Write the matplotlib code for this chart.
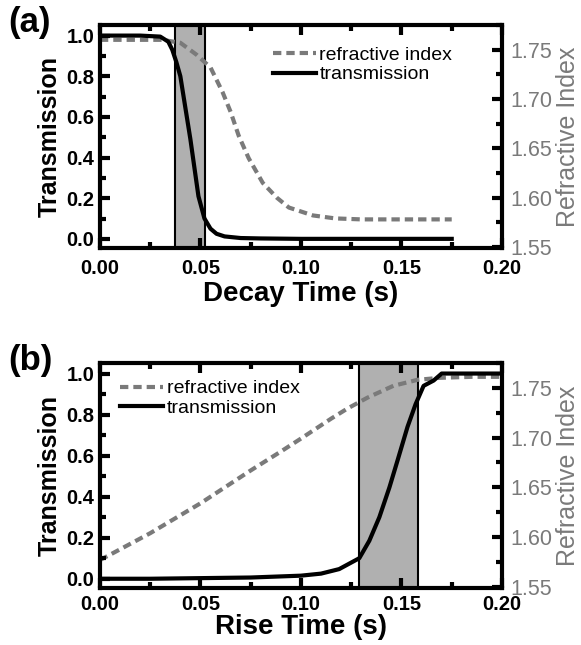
import numpy as np
import matplotlib
matplotlib.use('Agg')
import matplotlib.pyplot as plt
from matplotlib.ticker import MultipleLocator, FormatStrFormatter
from matplotlib.lines import Line2D

plt.rcParams['font.family'] = ['Liberation Sans', 'DejaVu Sans']

# ---- data ----
# (a) decay
decay_t = [0, 0.01, 0.02, 0.03, 0.034, 0.036, 0.038, 0.040, 0.045, 0.049, 0.052,
           0.055, 0.058, 0.062, 0.07, 0.08, 0.1, 0.125, 0.15, 0.175]
decay_trans = [1.0, 1.0, 1.0, 0.995, 0.97, 0.93, 0.87, 0.80, 0.49, 0.21, 0.10,
               0.05, 0.025, 0.012, 0.004, 0.002, 0.0, 0.0, 0.0, 0.0]
decay_n_t = [0, 0.02, 0.031, 0.04, 0.048, 0.055, 0.061, 0.065, 0.069, 0.074,
             0.081, 0.088, 0.094, 0.106, 0.117, 0.13, 0.15, 0.175]
decay_n = [1.76, 1.76, 1.76, 1.757, 1.745, 1.732, 1.707, 1.687, 1.663, 1.64,
           1.615, 1.60, 1.59, 1.582, 1.579, 1.578, 1.578, 1.578]
decay_band = (0.0373, 0.0522)

# (b) rise
rise_t = [0, 0.025, 0.05, 0.075, 0.1, 0.11, 0.119, 0.129, 0.134, 0.139, 0.144,
          0.148, 0.153, 0.157, 0.161, 0.166, 0.170, 0.18, 0.19, 0.2]
rise_trans = [0.0, 0.0, 0.003, 0.006, 0.015, 0.025, 0.047, 0.10, 0.185, 0.30,
              0.445, 0.575, 0.74, 0.85, 0.94, 0.966, 1.0, 1.0, 1.0, 1.0]
rise_n_t = [0, 0.025, 0.05, 0.075, 0.09, 0.1, 0.106, 0.115, 0.123, 0.133,
            0.146, 0.158, 0.169, 0.185, 0.2]
rise_n = [1.577, 1.604, 1.634, 1.667, 1.686, 1.699, 1.707, 1.719, 1.729, 1.74,
          1.752, 1.758, 1.76, 1.761, 1.761]
rise_band = (0.129, 0.158)

GRAY = '#7a7a7a'

fig = plt.figure(figsize=(5.81, 6.45), dpi=100)


def style_axes(ax, ax2, xpad):
    for sp in ax.spines.values():
        sp.set_linewidth(3)
    ax.set_xlim(0, 0.2)
    ax.set_ylim(-0.045, 1.052)
    ax2.set_ylim(1.549, 1.775)
    ax.xaxis.set_major_locator(MultipleLocator(0.05))
    ax.xaxis.set_minor_locator(MultipleLocator(0.025))
    ax.yaxis.set_major_locator(MultipleLocator(0.2))
    ax.yaxis.set_minor_locator(MultipleLocator(0.1))
    ax2.yaxis.set_major_locator(MultipleLocator(0.05))
    ax2.yaxis.set_minor_locator(MultipleLocator(0.025))
    ax.tick_params(which='both', direction='in', top=True, right=False, width=3)
    ax.tick_params(which='major', length=7, labelsize=14.5)
    ax.tick_params(axis='x', which='major', pad=xpad)
    ax.tick_params(axis='y', which='major', pad=4)
    ax.tick_params(which='minor', length=4)
    ax2.tick_params(which='both', direction='in', width=3, labelcolor=GRAY)
    ax2.tick_params(which='major', length=7, labelsize=15.5, pad=6)
    ax2.tick_params(which='minor', length=4)
    for lab in ax.get_xticklabels() + ax.get_yticklabels():
        lab.set_fontweight('bold')
    ax.xaxis.set_major_formatter(FormatStrFormatter('%.2f'))
    ax.yaxis.set_major_formatter(FormatStrFormatter('%.1f'))
    ax2.yaxis.set_major_formatter(FormatStrFormatter('%.2f'))
    ax.set_ylabel('Transmission', fontsize=18, fontweight='bold', labelpad=3)
    ax2.set_ylabel('Refractive Index', fontsize=18, color=GRAY, labelpad=3)


panels = [
    ([0.172, 0.6155, 0.692, 0.3457], decay_t, decay_trans, decay_n_t, decay_n,
     decay_band, 'Decay Time (s)', '(a)', 0.99, (0.43, 0.905), 8, 2),
    ([0.172, 0.0884, 0.692, 0.349], rise_t, rise_trans, rise_n_t, rise_n,
     rise_band, 'Rise Time (s)', '(b)', 0.466, (0.05, 0.925), 5, 0),
]

for rect, t, tr, nt, n, band, xl, tag, ty, legpos, xpad, lpad in panels:
    ax = fig.add_axes(rect)
    ax2 = ax.twinx()
    ax.set_zorder(ax2.get_zorder() + 1)
    ax.patch.set_visible(False)
    ax2.axvspan(band[0], band[1], facecolor='#b0b0b0', edgecolor='black',
                linewidth=1.5, zorder=0)
    ax2.plot(nt, n, color=GRAY, lw=3, dashes=(2.0, 1.2), zorder=2)
    ax.plot(t, tr, color='black', lw=3, zorder=3)
    style_axes(ax, ax2, xpad)
    ax.set_xlabel(xl, fontsize=20, fontweight='bold', labelpad=lpad)
    handles = [Line2D([], [], color=GRAY, lw=3, dashes=(2.0, 1.2)),
               Line2D([], [], color='black', lw=3)]
    ax.legend(handles, ['refractive index', 'transmission'], loc='upper left',
              bbox_to_anchor=legpos, frameon=False, fontsize=14,
              handlelength=2.2, handletextpad=0.2, labelspacing=0.1,
              borderpad=0, borderaxespad=0)
    fig.text(0.014, ty, tag, fontsize=25, fontweight='bold', va='top', ha='left')

fig.savefig('out.png', dpi=100)
